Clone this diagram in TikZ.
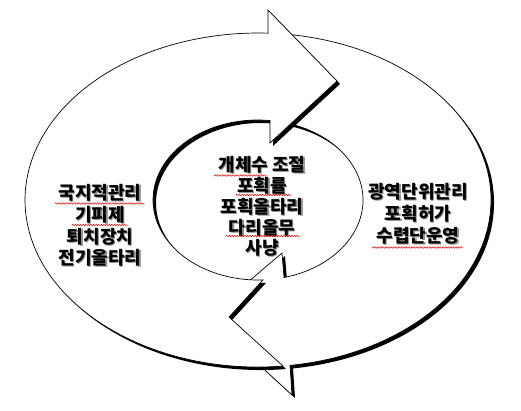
\documentclass[tikz,border=0pt]{standalone}
\usepackage{fontspec}
\newfontfamily\kr{Noto Sans CJK KR}
\usetikzlibrary{decorations.pathmorphing}
\newcommand{\shd}[1]{\makebox[0pt][l]{\hspace{1.3pt}\raisebox{-1.3pt}{\textcolor{black!45}{#1}}}#1}
\def\lowerpath{(284.98,34.12) arc[start angle=276.65, end angle=442.1, x radius=233, y radius=167] -- (292,395) -- (207,317) -- (282,253) -- (284.01,277.51) arc[start angle=75.66, end angle=-75.1, x radius=105, y radius=80] -- cycle}
\def\upperpath{(283,366.04) arc[start angle=83.84, end angle=272.46, x radius=233, y radius=167] -- (268,10) -- (337,81) -- (270,143) -- (270,120.52) arc[start angle=276.56, end angle=87.27, x radius=105, y radius=80] -- (229,317) -- cycle}
\begin{document}
\begin{tikzpicture}[x=1pt,y=-1pt,
  shape shadow/.style={fill=black},
  arrow body/.style={fill=white, draw=black, line width=0.7pt, line join=miter},
  lbl/.style={font=\kr\bfseries\fontsize{18}{21}\selectfont, inner sep=0pt, anchor=center},
  wavy/.style={draw=red!85!black, line width=0.45pt, decorate, decoration={snake, amplitude=0.8pt, segment length=2.6pt}}]
\useasboundingbox[fill=white] (0,0) rectangle (521,410);
% lower arrow (drawn first)
\fill[shape shadow, shift={(3,3)}] \lowerpath;
\path[arrow body] \lowerpath;
% upper arrow (on top)
\fill[shape shadow, shift={(3,3)}] \upperpath;
\path[arrow body] \upperpath;
% centre texts
\node[lbl] (c1) at (262,165) {\shd{개체수 조절}};
\node[lbl] (c2) at (262,186) {\shd{포획률}};
\node[lbl] (c3) at (262,207) {\shd{포획올타리}};
\node[lbl] (c4) at (262,228) {\shd{다리올무}};
\node[lbl] (c5) at (262,248) {\shd{사냥}};
% left texts
\node[lbl] (l1) at (100,193) {\shd{국지적관리}};
\node[lbl] (l2) at (100,215) {\shd{기피제}};
\node[lbl] (l3) at (100,237) {\shd{퇴치장치}};
\node[lbl] (l4) at (100,258) {\shd{전기올타리}};
% right texts
\node[lbl] (r1) at (418,192) {\shd{광역단위관리}};
\node[lbl] (r2) at (418,214) {\shd{포획허가}};
\node[lbl] (r3) at (418,236) {\shd{수렵단운영}};
% spell-check underlines
\draw[wavy] (214,175.5) -- (267,175.5);
\draw[wavy] (236,195) -- (291,195);
\draw[wavy] (226,236) -- (300,236);
\draw[wavy] (55,203.5) -- (145,203.5);
\draw[wavy] (72,225) -- (128,225);
\draw[wavy] (372,247.5) -- (463,247.5);
\end{tikzpicture}
\end{document}
